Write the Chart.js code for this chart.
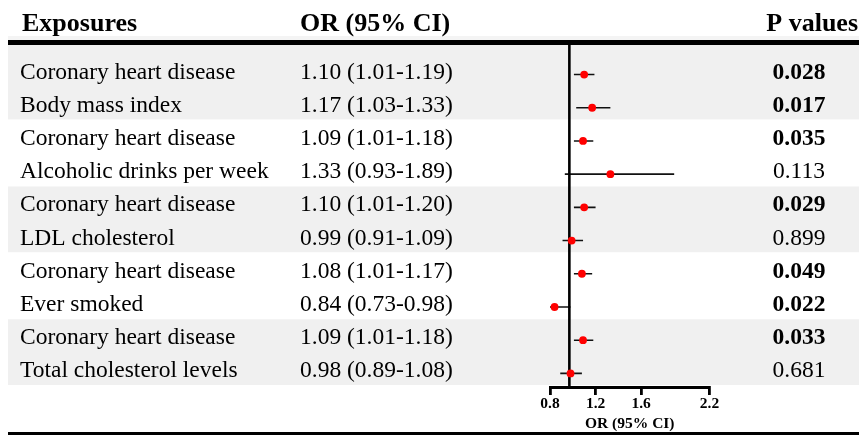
<!DOCTYPE html>
<html>
<head>
<meta charset="utf-8">
<title>Forest plot</title>
<script src="https://cdn.jsdelivr.net/npm/chart.js@4.4.1/dist/chart.umd.min.js"></script>
<style>
  html, body { margin: 0; padding: 0; background: #fff; }
  canvas { display: block; }
</style>
</head>
<body>
<canvas id="forest" width="859" height="435"></canvas>
<script>
// Datos
const exposures = [
    'Coronary heart disease', 'Body mass index',
    'Coronary heart disease', 'Alcoholic drinks per week',
    'Coronary heart disease', 'LDL cholesterol',
    'Coronary heart disease', 'Ever smoked',
    'Coronary heart disease', 'Total cholesterol levels'
];
const orValues = [1.10, 1.17, 1.09, 1.33, 1.10, 0.99, 1.08, 0.84, 1.09, 0.98];
const ciLower  = [1.01, 1.03, 1.01, 0.93, 1.01, 0.91, 1.01, 0.73, 1.01, 0.89];
const ciUpper  = [1.19, 1.33, 1.18, 1.89, 1.20, 1.09, 1.17, 0.98, 1.18, 1.08];
const pValues  = ['0.028', '0.017', '0.035', '0.113', '0.029', '0.899', '0.049', '0.022', '0.033', '0.681'];
const xTicks = [0.8, 1.2, 1.6, 2.2];
const headers = ['Exposures', 'OR (95% CI)', 'P values'];
const axisTitle = 'OR (95% CI)';
const nullLine = 0.97;          // la línea vertical del original queda un poco a la izquierda de 1
const shadedRows = [0, 4, 8];   // primera fila de cada banda gris

const serif = '"Liberation Serif", "Times New Roman", serif';
const yMin = -0.89, yMax = 9.41;

function formatOR(i) {
    return orValues[i].toFixed(2) + ' (' + ciLower[i].toFixed(2) + '-' + ciUpper[i].toFixed(2) + ')';
}

// Tabla, bandas grises y reglas horizontales
const tablePlugin = {
    id: 'forestTable',
    beforeDraw(chart) {
        const { ctx, chartArea, scales: { y } } = chart;
        ctx.save();
        ctx.fillStyle = '#f4f4f4';
        ctx.fillRect(8, chartArea.top - 9, chart.width - 8, 4);
        ctx.fillStyle = '#f0f0f0';
        shadedRows.forEach(r => {
            const top = r === 0 ? chartArea.top : y.getPixelForValue(r - 0.63);
            const bottom = Math.min(y.getPixelForValue(r + 1.35), chartArea.bottom);
            ctx.fillRect(8, top, chart.width - 8, bottom - top);
        });
        ctx.restore();
    },
    afterDraw(chart) {
        const { ctx, chartArea, scales: { y } } = chart;
        ctx.save();
        ctx.fillStyle = '#000';

        // reglas
        ctx.fillRect(8, chartArea.top - 5, chart.width - 8, 5);
        ctx.fillRect(8, chart.height - 3, chart.width - 8, 3);

        // encabezados
        ctx.textBaseline = 'alphabetic';
        ctx.font = 'bold 26px ' + serif;
        ctx.textAlign = 'left';
        ctx.fillText(headers[0], 22, 31);
        ctx.fillText(headers[1], 300, 31);
        ctx.textAlign = 'right';
        ctx.fillText(headers[2], 858, 31);

        // filas
        exposures.forEach((name, i) => {
            const py = y.getPixelForValue(i) + 4;
            ctx.font = '23.5px ' + serif;
            ctx.textAlign = 'left';
            ctx.fillText(name, 20, py);
            ctx.fillText(formatOR(i), 300, py);
            const p = parseFloat(pValues[i]);
            ctx.font = (p < 0.05 ? 'bold ' : '') + '23.5px ' + serif;
            ctx.textAlign = 'center';
            ctx.fillText(pValues[i], 799, py);
        });
        ctx.restore();
    }
};

const ciDatasets = exposures.map((name, i) => ({
    type: 'line',
    label: name,
    data: [{ x: ciLower[i], y: i }, { x: ciUpper[i], y: i }],
    borderColor: '#111',
    borderWidth: 1.6,
    pointRadius: 0,
    pointHoverRadius: 0
}));

new Chart(document.getElementById('forest'), {
    type: 'scatter',
    data: {
        datasets: [
            {
                type: 'scatter',
                label: 'OR',
                data: orValues.map((v, i) => ({ x: v, y: i })),
                pointRadius: 3.9,
                pointBackgroundColor: '#ff0000',
                pointBorderWidth: 0
            },
            {
                type: 'line',
                label: 'null',
                data: [{ x: nullLine, y: yMin }, { x: nullLine, y: yMax }],
                borderColor: '#000',
                borderWidth: 2.6,
                pointRadius: 0
            },
            ...ciDatasets
        ]
    },
    options: {
        responsive: false,
        devicePixelRatio: 1,
        animation: false,
        layout: { padding: { left: 550, right: 149.5, top: 45, bottom: 0 } },
        plugins: {
            legend: { display: false },
            tooltip: { enabled: false }
        },
        scales: {
            x: {
                type: 'linear',
                min: 0.8,
                max: 2.2,
                afterBuildTicks: scale => { scale.ticks = xTicks.map(v => ({ value: v })); },
                afterFit: scale => { scale.height = 48; },
                border: { display: true, color: '#000', width: 3 },
                grid: { drawOnChartArea: false, drawTicks: true, tickLength: 8, color: '#000', lineWidth: 2.8 },
                ticks: {
                    padding: 0,
                    color: '#000',
                    font: { family: serif, size: 15.5, weight: 'bold' },
                    callback: v => Number(v).toFixed(1)
                },
                title: {
                    display: true,
                    text: axisTitle,
                    color: '#000',
                    font: { family: serif, size: 15.5, weight: 'bold' },
                    padding: { top: 0, bottom: 2 }
                }
            },
            y: {
                type: 'linear',
                reverse: true,
                min: yMin,
                max: yMax,
                display: false
            }
        }
    },
    plugins: [tablePlugin]
});
</script>
</body>
</html>
